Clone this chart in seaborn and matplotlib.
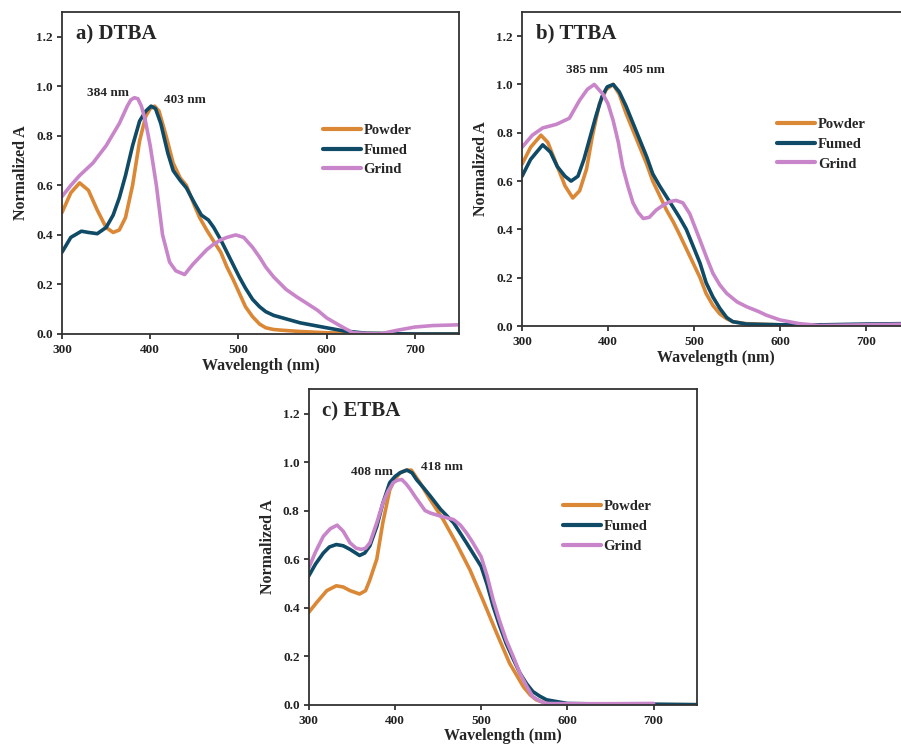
import numpy as np
import pandas as pd
import matplotlib
matplotlib.use("Agg")
import matplotlib.pyplot as plt
import seaborn as sns

# ---------------- data ----------------
series_names = ["Powder", "Fumed", "Grind"]
colors = ["#DB8836", "#0F4A66", "#C985C9"]

# a) DTBA
a_powder_wl = [300,310,320,330,340,350,358,365,372,380,388,395,400,405,410,418,426,434,441,450,456,464,471,480,487,494,501,508,516,524,531,540,550,570,600,650,700,750]
a_powder_A  = [0.49,0.57,0.61,0.58,0.50,0.43,0.41,0.42,0.47,0.60,0.78,0.88,0.91,0.92,0.90,0.80,0.69,0.63,0.60,0.52,0.47,0.42,0.38,0.33,0.27,0.22,0.165,0.11,0.07,0.04,0.025,0.018,0.015,0.01,0.005,0.002,0.0,0.0]
a_fumed_wl = [300,310,322,330,340,350,358,365,372,380,388,395,401,406,412,420,426,434,441,450,458,466,472,480,487,494,501,508,516,524,531,540,550,570,600,620,645,700,750]
a_fumed_A  = [0.33,0.39,0.415,0.41,0.405,0.43,0.48,0.55,0.64,0.76,0.86,0.90,0.92,0.91,0.85,0.73,0.66,0.62,0.59,0.53,0.48,0.46,0.43,0.38,0.33,0.28,0.23,0.185,0.14,0.11,0.09,0.075,0.065,0.045,0.025,0.012,0.003,0.0,0.0]
a_grind_wl = [300,310,320,335,350,365,374,378,382,386,390,394,400,407,414,422,429,439,448,456,464,471,480,487,497,506,516,524,531,540,554,566,577,590,600,612,622,630,645,660,680,700,720,750]
a_grind_A  = [0.555,0.60,0.64,0.69,0.76,0.85,0.92,0.945,0.954,0.95,0.92,0.87,0.76,0.60,0.40,0.29,0.255,0.24,0.28,0.31,0.34,0.36,0.38,0.39,0.40,0.39,0.35,0.31,0.27,0.23,0.18,0.15,0.125,0.095,0.065,0.04,0.02,0.005,0.002,0.0,0.015,0.028,0.034,0.037]

# b) TTBA
b_powder_wl = [300,310,322,330,340,350,359,367,375,382,390,398,406,413,421,429,437,445,452,460,468,476,483,491,499,507,514,522,530,538,545,560,580,600,650,700,750]
b_powder_A  = [0.67,0.74,0.79,0.76,0.67,0.58,0.53,0.56,0.65,0.79,0.92,0.98,1.0,0.96,0.88,0.81,0.74,0.67,0.60,0.54,0.48,0.43,0.38,0.32,0.26,0.20,0.135,0.085,0.05,0.03,0.018,0.01,0.007,0.005,0.003,0.003,0.005]
b_fumed_wl = [300,310,324,333,341,350,357,365,372,379,386,393,399,406,413,421,429,437,445,452,460,468,476,483,491,499,507,514,522,530,538,545,561,600,650,700,750]
b_fumed_A  = [0.62,0.69,0.75,0.72,0.66,0.62,0.60,0.62,0.69,0.78,0.87,0.95,0.99,1.0,0.97,0.91,0.84,0.77,0.70,0.63,0.58,0.535,0.49,0.45,0.40,0.33,0.26,0.18,0.12,0.073,0.035,0.018,0.008,0.005,0.005,0.008,0.01]
b_grind_wl = [300,312,324,340,355,367,376,384,394,400,406,412,417,423,429,435,441,448,456,464,472,479,487,495,501,507,515,522,530,538,550,561,575,584,600,622,646,700,750]
b_grind_A  = [0.74,0.79,0.82,0.835,0.86,0.935,0.98,1.0,0.96,0.92,0.85,0.76,0.66,0.58,0.51,0.47,0.445,0.45,0.48,0.50,0.515,0.52,0.51,0.465,0.41,0.355,0.28,0.218,0.17,0.135,0.10,0.08,0.06,0.045,0.025,0.01,0.002,0.005,0.008]

# c) ETBA
c_powder_wl = [300,309,321,332,340,348,359,366,371,379,386,394,400,406,412,419,429,441,456,471,487,502,518,533,549,557,564,572,580,600,650,700,750]
c_powder_A  = [0.38,0.42,0.47,0.49,0.485,0.47,0.456,0.47,0.515,0.60,0.75,0.885,0.93,0.955,0.965,0.967,0.915,0.845,0.763,0.667,0.556,0.432,0.295,0.171,0.074,0.04,0.02,0.01,0.005,0.002,0.0,0.0,0.0]
c_fumed_wl = [300,308,317,324,332,340,348,359,365,371,379,386,394,400,406,414,420,425,433,441,453,468,483,500,507,514,521,529,537,545,553,560,568,576,600,650,700,750]
c_fumed_A  = [0.53,0.58,0.625,0.65,0.66,0.655,0.64,0.615,0.625,0.655,0.735,0.83,0.915,0.94,0.956,0.967,0.955,0.928,0.895,0.86,0.805,0.75,0.667,0.57,0.495,0.405,0.33,0.253,0.19,0.13,0.085,0.054,0.035,0.02,0.005,0.002,0.002,0.0]
c_grind_wl = [300,308,317,325,333,340,348,355,361,366,371,379,386,392,398,403,408,413,418,423,429,435,441,453,468,476,483,490,500,507,514,521,529,537,545,553,560,568,576,600,650,700]
c_grind_A  = [0.563,0.63,0.694,0.725,0.74,0.715,0.667,0.645,0.64,0.645,0.667,0.75,0.83,0.88,0.915,0.925,0.928,0.91,0.887,0.86,0.83,0.80,0.79,0.777,0.763,0.74,0.708,0.67,0.61,0.53,0.432,0.35,0.267,0.20,0.13,0.075,0.033,0.015,0.005,0.004,0.004,0.005]

panel_titles = ["a) DTBA", "b) TTBA", "c) ETBA"]
peak_labels = [("384 nm", "403 nm"), ("385 nm", "405 nm"), ("408 nm", "418 nm")]
x_ticks = [300, 400, 500, 600, 700]
y_ticks = [0.0, 0.2, 0.4, 0.6, 0.8, 1.0, 1.2]

# ---------------- style ----------------
sns.set_theme(style="ticks")
plt.rcParams["font.family"] = ["Liberation Serif", "DejaVu Serif"]
plt.rcParams["font.weight"] = "bold"
plt.rcParams["axes.labelweight"] = "bold"
plt.rcParams["lines.solid_joinstyle"] = "round"
plt.rcParams["lines.solid_capstyle"] = "round"

def make_df(wls, vals):
    frames = []
    for name, w, v in zip(series_names, wls, vals):
        frames.append(pd.DataFrame({"Wavelength": w, "A": v, "Sample": name}))
    return pd.concat(frames, ignore_index=True)

panels = [
    make_df([a_powder_wl, a_fumed_wl, a_grind_wl], [a_powder_A, a_fumed_A, a_grind_A]),
    make_df([b_powder_wl, b_fumed_wl, b_grind_wl], [b_powder_A, b_fumed_A, b_grind_A]),
    make_df([c_powder_wl, c_fumed_wl, c_grind_wl], [c_powder_A, c_fumed_A, c_grind_A]),
]

# layout (figure fractions) and annotation placement (data coords)
positions = [
    [0.0688, 0.5523, 0.4406, 0.4316],
    [0.5794, 0.5630, 0.4295, 0.4209],
    [0.3426, 0.0554, 0.4306, 0.4228],
]
ann_pos = [((352, 0.975), (439, 0.945)),
           ((375, 1.058), (442, 1.058)),
           ((374, 0.957), (455, 0.981))]
legend_anchor = [(0.657, 0.653), (0.659, 0.663), (0.655, 0.648)]

fig = plt.figure(figsize=(9.01, 7.46), dpi=100)
pal = dict(zip(series_names, colors))

for i, df in enumerate(panels):
    ax = fig.add_axes(positions[i])
    sns.lineplot(data=df, x="Wavelength", y="A", hue="Sample", palette=pal,
                 linewidth=2.6, ax=ax, sort=False, estimator=None)
    ax.set_xlim(300, 750)
    ax.set_ylim(0, 1.3)
    ax.set_xticks(x_ticks)
    ax.set_yticks(y_ticks)
    ax.set_yticklabels([f"{t:.1f}" for t in y_ticks])
    ax.tick_params(axis="both", direction="out", length=3.5, width=1.2,
                   labelsize=9.5, pad=3, colors="#222222")
    ax.tick_params(axis="x", pad=4)
    for lab in ax.get_xticklabels() + ax.get_yticklabels():
        lab.set_fontweight("bold")
    for sp in ax.spines.values():
        sp.set_visible(True)
        sp.set_linewidth(1.3)
        sp.set_color("#333333")
    ax.set_xlabel("Wavelength (nm)", fontsize=11.5, fontweight="bold", labelpad=1)
    ax.set_ylabel("Normalized A", fontsize=11.5, fontweight="bold", labelpad=5)
    ax.text(316, 1.21, panel_titles[i], fontsize=15, fontweight="bold",
            va="center", ha="left")
    (x1, y1), (x2, y2) = ann_pos[i]
    ax.text(x1, y1, peak_labels[i][0], fontsize=9.5, fontweight="bold",
            ha="center", va="center")
    ax.text(x2, y2, peak_labels[i][1], fontsize=9.5, fontweight="bold",
            ha="center", va="center")
    leg = ax.legend(loc="upper left", bbox_to_anchor=legend_anchor[i],
                    frameon=False, fontsize=10.5, handlelength=2.6,
                    handletextpad=0.2, labelspacing=0.45, borderpad=0,
                    borderaxespad=0, title=None)
    for t in leg.get_texts():
        t.set_fontweight("bold")
    for h in leg.get_lines():
        h.set_linewidth(3)
    ax.set_facecolor("white")

fig.savefig("out.png", dpi=100, facecolor="white")
